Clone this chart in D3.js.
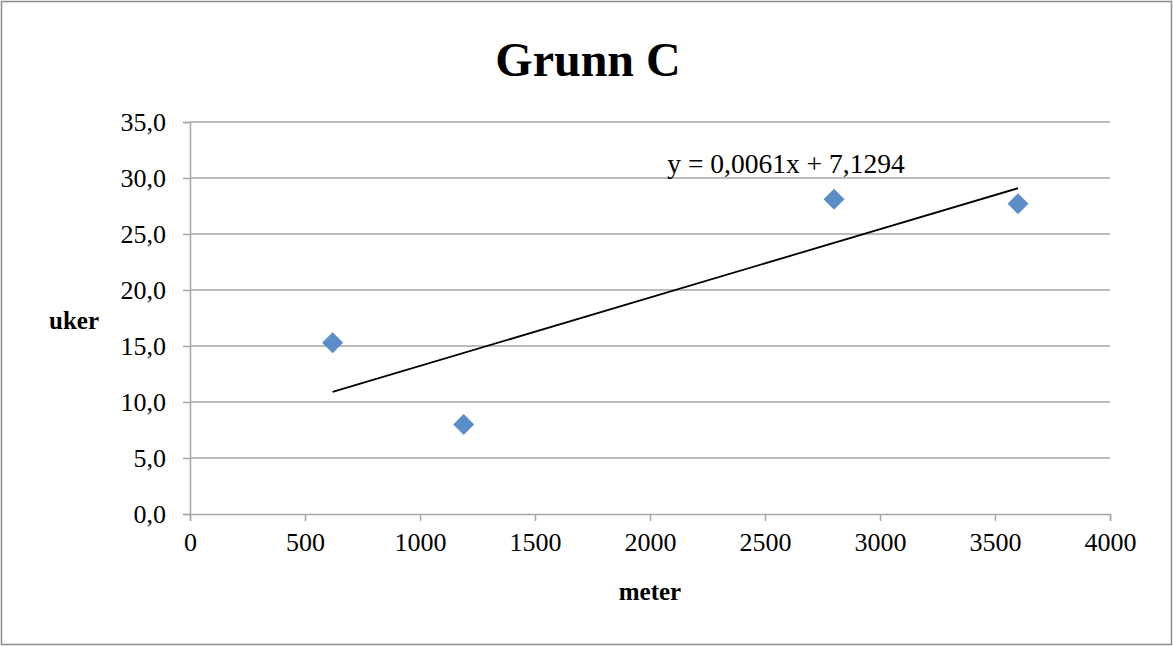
<!DOCTYPE html>
<html>
<head>
<meta charset="utf-8">
<script src="https://d3js.org/d3.v7.min.js"></script>
<style>
body { margin: 0; background: #fff; }
svg { font-family: "Liberation Serif", "DejaVu Serif", serif; }
</style>
</head>
<body>
<svg width="1173" height="646"></svg>
<script>
// data
var meters = [620, 1190, 2800, 3600];
var weeks = [15.3, 8.0, 28.1, 27.7];
var xTicks = [0, 500, 1000, 1500, 2000, 2500, 3000, 3500, 4000];
var yTicks = [0, 5, 10, 15, 20, 25, 30, 35];
var trendSlope = 0.0061, trendIntercept = 7.1294;
var trendLabel = "y = 0,0061x + 7,1294";

var svg = d3.select("svg");

// chart border
svg.append("rect")
  .attr("x", 1.5).attr("y", 1.5)
  .attr("width", 1170).attr("height", 643)
  .attr("fill", "#fff").attr("stroke", "#8c8c8c").attr("stroke-width", 1.5);

var pLeft = 190, pRight = 1110, pTop = 122, pBottom = 514;

var x = d3.scaleLinear().domain([0, 4000]).range([pLeft, pRight]);
var y = d3.scaleLinear().domain([0, 35]).range([pBottom, pTop]);

var fmt = function(d) { return d3.format(".1f")(d).replace(".", ","); };

// grid lines
svg.append("g").selectAll("line")
  .data(yTicks.slice(1))
  .enter().append("line")
  .attr("x1", pLeft).attr("x2", pRight)
  .attr("y1", function(d) { return y(d); })
  .attr("y2", function(d) { return y(d); })
  .attr("stroke", "#a6a6a6").attr("stroke-width", 1.5);

// y axis
var gy = svg.append("g")
  .attr("transform", "translate(" + pLeft + ",0)")
  .call(d3.axisLeft(y).tickValues(yTicks).tickFormat(fmt).tickSize(7).tickPadding(17));
gy.selectAll("line, path").attr("stroke", "#a6a6a6").attr("stroke-width", 1.5);
gy.selectAll("text").attr("font-size", 26).attr("fill", "#000").attr("font-family", "Liberation Serif");

// x axis
var gx = svg.append("g")
  .attr("transform", "translate(0," + pBottom + ")")
  .call(d3.axisBottom(x).tickValues(xTicks).tickFormat(d3.format("d")).tickSize(7).tickPadding(12));
gx.selectAll("line, path").attr("stroke", "#a6a6a6").attr("stroke-width", 1.5);
gx.selectAll("text").attr("font-size", 26).attr("fill", "#000").attr("font-family", "Liberation Serif");

// trend line
var tx = d3.extent(meters);
svg.append("line")
  .attr("x1", x(tx[0])).attr("y1", y(trendSlope * tx[0] + trendIntercept))
  .attr("x2", x(tx[1])).attr("y2", y(trendSlope * tx[1] + trendIntercept))
  .attr("stroke", "#000").attr("stroke-width", 1.8);

// points
svg.append("g").selectAll("path")
  .data(meters)
  .enter().append("path")
  .attr("d", "M0,-10.5L10.5,0L0,10.5L-10.5,0Z")
  .attr("transform", function(d, i) { return "translate(" + x(d) + "," + y(weeks[i]) + ")"; })
  .attr("fill", "#5b8ec9");

// equation label
svg.append("text")
  .attr("x", 786).attr("y", 173)
  .attr("text-anchor", "middle")
  .attr("font-size", 27.5)
  .text(trendLabel);

// title
svg.append("text")
  .attr("x", 588).attr("y", 76)
  .attr("text-anchor", "middle")
  .attr("font-size", 48).attr("font-weight", "bold")
  .text("Grunn C");

// axis titles
svg.append("text")
  .attr("x", 74).attr("y", 329)
  .attr("text-anchor", "middle")
  .attr("font-size", 25).attr("font-weight", "bold")
  .text("uker");

svg.append("text")
  .attr("x", 650).attr("y", 600)
  .attr("text-anchor", "middle")
  .attr("font-size", 25).attr("font-weight", "bold")
  .text("meter");
</script>
</body>
</html>
